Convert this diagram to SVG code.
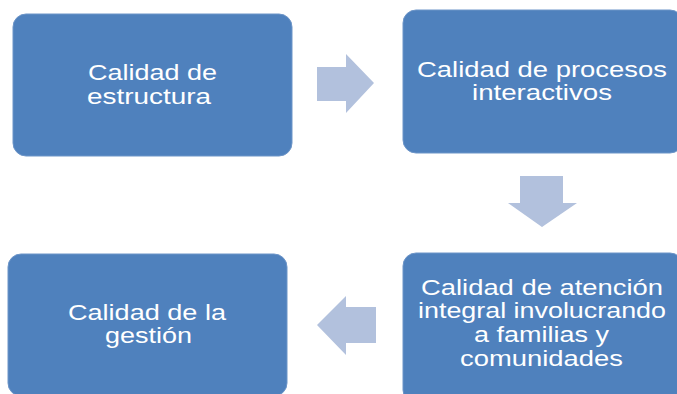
<svg xmlns="http://www.w3.org/2000/svg" width="677" height="394" viewBox="0 0 677 394">
<style>
.box{fill:#4F81BD;stroke:#6D95C8;stroke-width:1}
.arr{fill:#B2C1DD}
.t{font-family:"Liberation Sans",Arial,sans-serif;font-size:22px;fill:#FFFFFF}
</style>
<rect width="677" height="394" fill="#FFFFFF"/>
<g id="connectors">
<polygon class="arr" points="317,67 346,67 346,54 374,83 346,113 346,101 317,101"/>
<polygon class="arr" points="520,176 563,176 563,203 577,203 542,227 508,203 520,203"/>
<polygon class="arr" points="376,307 346,307 346,296 317,325 346,355 346,343 376,343"/>
</g>
<g id="node-estructura">
<rect class="box" x="13" y="14" width="279" height="142" rx="13"/>
<text class="t" x="88" y="80" textLength="129" lengthAdjust="spacingAndGlyphs">Calidad de</text>
<text class="t" x="87" y="104" textLength="124" lengthAdjust="spacingAndGlyphs">estructura</text>
</g>
<g id="node-procesos">
<rect class="box" x="403" y="10" width="280" height="143" rx="13"/>
<text class="t" x="417" y="77" textLength="250" lengthAdjust="spacingAndGlyphs">Calidad de procesos</text>
<text class="t" x="472" y="100" textLength="140" lengthAdjust="spacingAndGlyphs">interactivos</text>
</g>
<g id="node-atencion">
<rect class="box" x="403" y="253" width="280" height="150" rx="13"/>
<text class="t" x="421" y="295" textLength="242" lengthAdjust="spacingAndGlyphs">Calidad de atención</text>
<text class="t" x="418" y="318" textLength="248" lengthAdjust="spacingAndGlyphs">integral involucrando</text>
<text class="t" x="474" y="342" textLength="135" lengthAdjust="spacingAndGlyphs">a familias y</text>
<text class="t" x="460" y="366" textLength="163" lengthAdjust="spacingAndGlyphs">comunidades</text>
</g>
<g id="node-gestion">
<rect class="box" x="8" y="254" width="279" height="142" rx="13"/>
<text class="t" x="68" y="320" textLength="158" lengthAdjust="spacingAndGlyphs">Calidad de la</text>
<text class="t" x="105" y="343" textLength="87" lengthAdjust="spacingAndGlyphs">gestión</text>
</g>
</svg>
